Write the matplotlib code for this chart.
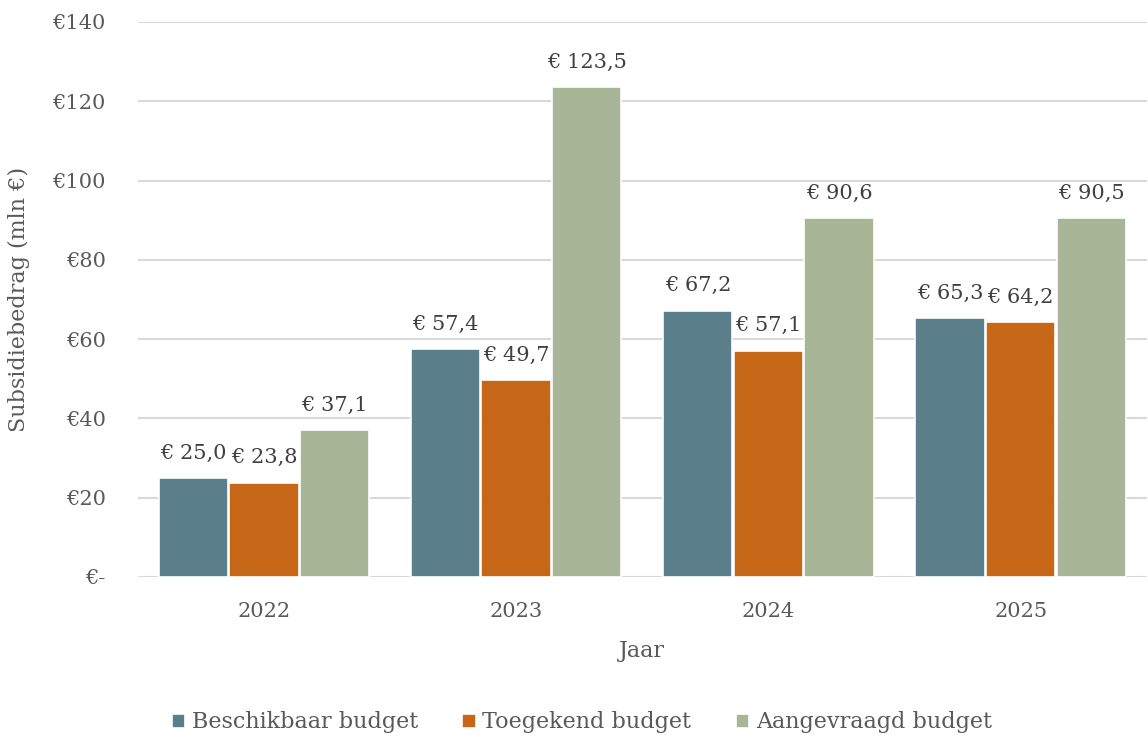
import matplotlib
matplotlib.use("Agg")
import matplotlib.pyplot as plt
import numpy as np

plt.rcParams["font.family"] = ["DejaVu Serif"]

jaren = ["2022", "2023", "2024", "2025"]
beschikbaar = [25.0, 57.4, 67.2, 65.3]
toegekend = [23.8, 49.7, 57.1, 64.2]
aangevraagd = [37.1, 123.5, 90.6, 90.5]
series = ["Beschikbaar budget", "Toegekend budget", "Aangevraagd budget"]
kleuren = ["#5b7f8a", "#c56717", "#a8b596"]

fig = plt.figure(figsize=(11.48, 7.42), dpi=100)
ax = fig.add_axes([0.120, 0.2224, 0.879, 0.748])

x = np.arange(len(jaren))
w = 0.275
offs = [-0.28, 0.0, 0.28]
for vals, off, kl, naam in zip([beschikbaar, toegekend, aangevraagd], offs, kleuren, series):
    bars = ax.bar(x + off, vals, w, color=kl, edgecolor="white", linewidth=1.2, label=naam, zorder=3)
    for b, v in zip(bars, vals):
        ax.annotate("€ " + f"{v:.1f}".replace(".", ","),
                    (b.get_x() + b.get_width() / 2, v), xytext=(0, 11),
                    textcoords="offset points", ha="center", va="bottom",
                    fontsize=15, color="#404040")

ax.set_xlim(-0.5, 3.5)
ax.set_ylim(0, 140)
ax.set_yticks(range(0, 141, 20))
ax.set_yticklabels(["€-"] + [f"€{v}" for v in range(20, 141, 20)])
ax.set_xticks(x)
ax.set_xticklabels(jaren)
ax.tick_params(length=0, labelsize=15, colors="#595959")
ax.tick_params(axis="x", pad=18)
ax.tick_params(axis="y", pad=23)
ax.grid(axis="y", color="#d9d9d9", linewidth=1.5, zorder=0)
for s in ax.spines.values():
    s.set_visible(False)

ax.set_xlabel("Jaar", fontsize=16, color="#595959", labelpad=14)
ax.set_ylabel("Subsidiebedrag (mln €)", fontsize=16, color="#595959", labelpad=16)

ax.legend(loc="center", bbox_to_anchor=(0.44, -0.262), ncol=3, frameon=False,
          fontsize=16, handlelength=0.6, handleheight=0.6, handletextpad=0.3,
          columnspacing=2.0, labelcolor="#595959")

fig.savefig("out.png", dpi=100, facecolor="white")
